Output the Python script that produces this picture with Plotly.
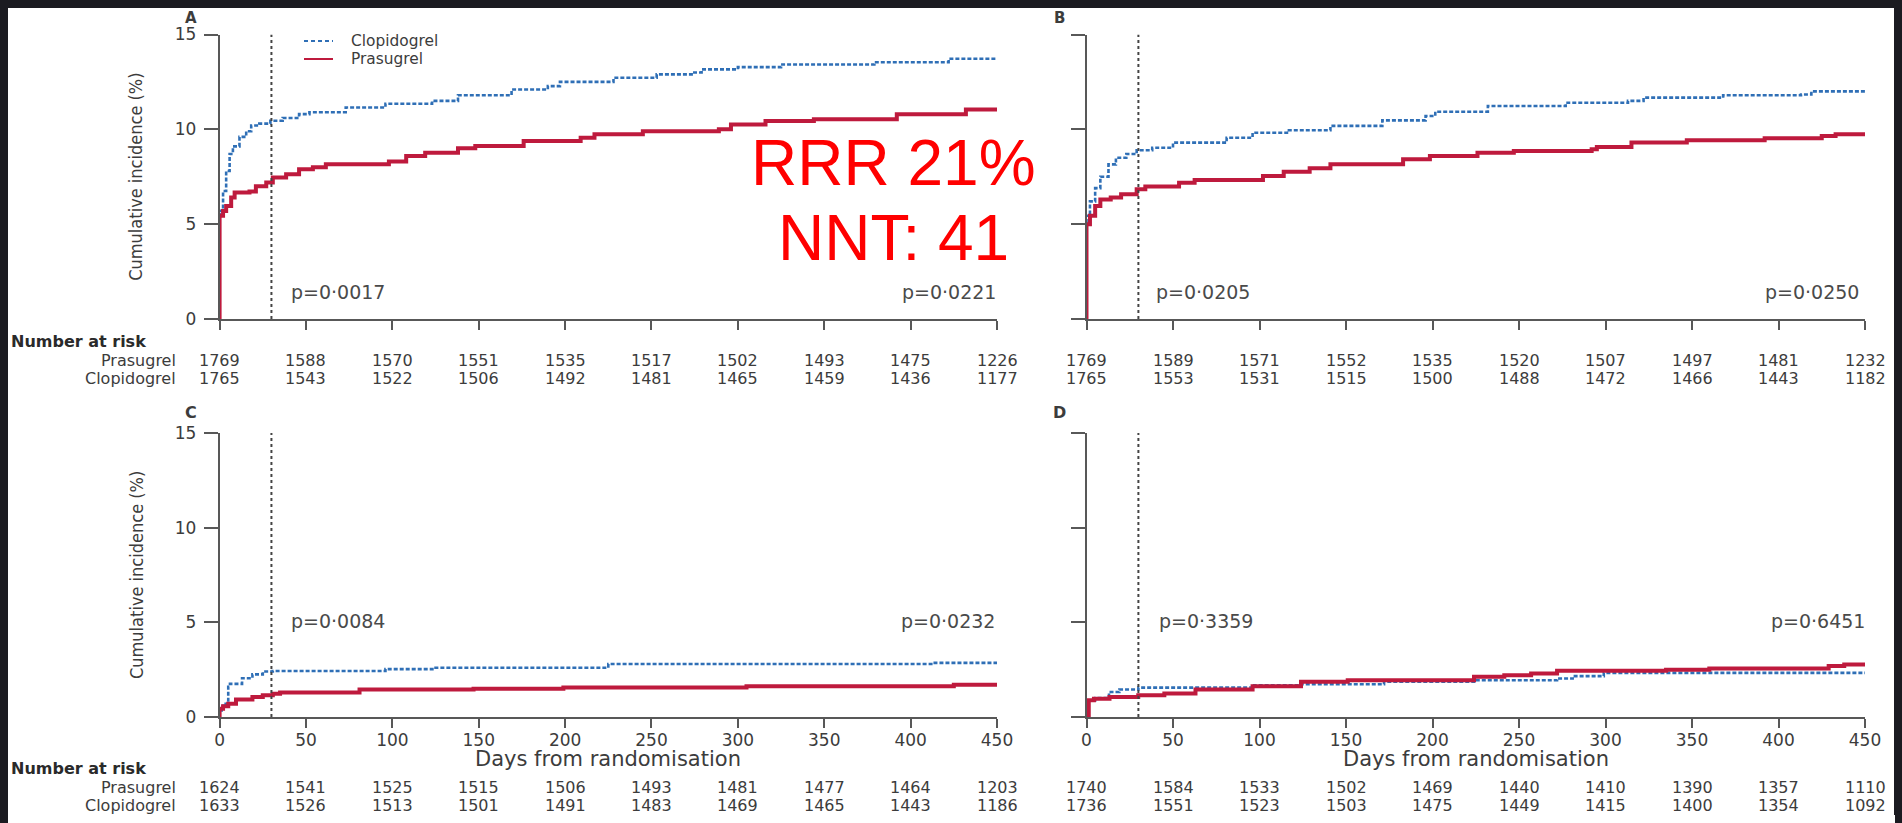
import plotly.graph_objects as go

# Target window is 1902x823; the page body keeps its default 8px margin,
# so the figure itself is 1886x807 and sits at (8, 8) on screen.
SCREEN_W, SCREEN_H = 1902, 823
OFF = 8
FW, FH = SCREEN_W - 2 * OFF, SCREEN_H - 2 * OFF

# ---------------- data ----------------
tick_days = [0, 50, 100, 150, 200, 250, 300, 350, 400, 450]

A_clop_day = [0, 0, 2, 3.8, 5.8, 7.7, 11.5, 15.4, 18.3, 23, 29.4, 36.5, 46, 52, 73, 96, 123, 138, 169, 190, 197, 228, 253, 274, 279, 300, 325, 379, 422, 450]
A_clop_pct = [0, 5.7, 6.75, 7.8, 8.7, 9.1, 9.6, 9.9, 10.2, 10.3, 10.45, 10.6, 10.8, 10.9, 11.15, 11.35, 11.5, 11.8, 12.1, 12.28, 12.5, 12.72, 12.9, 13.0, 13.16, 13.28, 13.42, 13.54, 13.72, 13.72]
A_pras_day = [0, 0, 2, 3.8, 6.7, 8.7, 17.3, 21, 27, 30.8, 38.5, 46, 54, 61.5, 98, 108, 119, 138, 148, 176, 209, 217, 245, 289, 296, 316, 344, 392, 432, 450]
A_pras_pct = [0, 5.44, 5.7, 5.96, 6.4, 6.67, 6.72, 7.0, 7.2, 7.46, 7.63, 7.9, 8.0, 8.16, 8.3, 8.6, 8.77, 9.0, 9.12, 9.39, 9.56, 9.74, 9.9, 10.0, 10.26, 10.44, 10.53, 10.79, 11.05, 11.1]

B_clop_day = [0, 0, 2, 5, 8, 12.7, 17, 23, 29, 38, 50, 81, 96, 117, 141, 171, 196, 201.6, 232, 277, 313, 322, 368, 413, 419, 450]
B_clop_pct = [0, 5.44, 6.2, 6.9, 7.5, 8.15, 8.5, 8.7, 8.9, 9.03, 9.3, 9.56, 9.82, 9.95, 10.18, 10.47, 10.7, 10.93, 11.23, 11.4, 11.5, 11.67, 11.8, 11.84, 12.0, 12.05]
B_pras_day = [0, 0, 2, 5, 8, 14, 20, 29, 34, 53.5, 62.5, 102, 114, 129, 141, 183, 198.5, 226, 247, 292, 295, 315, 347, 392, 425, 433, 450]
B_pras_pct = [0, 5.0, 5.44, 5.96, 6.3, 6.4, 6.58, 6.84, 6.98, 7.19, 7.33, 7.54, 7.77, 7.95, 8.16, 8.42, 8.6, 8.77, 8.86, 8.95, 9.07, 9.3, 9.42, 9.53, 9.65, 9.74, 9.74]

C_clop_day = [0, 0, 2, 5, 6, 13, 19, 25, 30.8, 96, 125, 225, 413, 450]
C_clop_pct = [0, 0.35, 0.7, 1.6, 1.75, 2.05, 2.25, 2.4, 2.43, 2.53, 2.6, 2.8, 2.86, 2.86]
C_pras_day = [0, 0, 2, 5, 9.5, 19, 25, 30.8, 35, 81, 147, 199, 305, 425, 450]
C_pras_pct = [0, 0.44, 0.57, 0.7, 0.92, 1.06, 1.15, 1.23, 1.3, 1.45, 1.49, 1.56, 1.63, 1.7, 1.7]

D_clop_day = [0, 1.3, 5, 13, 19, 30, 96, 124, 172, 224, 272, 281, 299, 450]
D_clop_pct = [0, 0.88, 1.0, 1.32, 1.45, 1.55, 1.68, 1.73, 1.86, 1.94, 2.03, 2.16, 2.33, 2.33]
D_pras_day = [0, 1.3, 4.3, 13.3, 29.9, 45, 63, 96, 124, 151, 224, 241.5, 257, 272, 335, 360, 429, 438, 450]
D_pras_pct = [0, 0.88, 0.97, 1.06, 1.15, 1.24, 1.45, 1.63, 1.86, 1.94, 2.12, 2.2, 2.3, 2.44, 2.5, 2.56, 2.7, 2.77, 2.77]

risk_A_pras = [1769, 1588, 1570, 1551, 1535, 1517, 1502, 1493, 1475, 1226]
risk_A_clop = [1765, 1543, 1522, 1506, 1492, 1481, 1465, 1459, 1436, 1177]
risk_B_pras = [1769, 1589, 1571, 1552, 1535, 1520, 1507, 1497, 1481, 1232]
risk_B_clop = [1765, 1553, 1531, 1515, 1500, 1488, 1472, 1466, 1443, 1182]
risk_C_pras = [1624, 1541, 1525, 1515, 1506, 1493, 1481, 1477, 1464, 1203]
risk_C_clop = [1633, 1526, 1513, 1501, 1491, 1483, 1469, 1465, 1443, 1186]
risk_D_pras = [1740, 1584, 1533, 1502, 1469, 1440, 1410, 1390, 1357, 1110]
risk_D_clop = [1736, 1551, 1523, 1503, 1475, 1449, 1415, 1400, 1354, 1092]

p_values = {"A": ("p=0·0017", "p=0·0221"), "B": ("p=0·0205", "p=0·0250"),
            "C": ("p=0·0084", "p=0·0232"), "D": ("p=0·3359", "p=0·6451")}

# ---------------- styling ----------------
BLUE = "#2f6fb6"
RED = "#be1a3d"
AX = "#585858"
TXT = "#3c3c3c"
DARK = "#1b1b21"
FONT = "DejaVu Sans, Verdana, sans-serif"
NARROW = "Liberation Sans Narrow, Arial Narrow, DejaVu Sans Condensed, sans-serif"
TAB = 16  # number-at-risk font size


def px(x):
    """screen x (px) -> paper fraction"""
    return (x - OFF) / FW


def py(y):
    """screen y (px, from top) -> paper fraction"""
    return 1 - (y - OFF) / FH


fig = go.Figure()

panels = [
    ("x", "y", A_clop_day, A_clop_pct, A_pras_day, A_pras_pct),
    ("x2", "y2", B_clop_day, B_clop_pct, B_pras_day, B_pras_pct),
    ("x3", "y3", C_clop_day, C_clop_pct, C_pras_day, C_pras_pct),
    ("x4", "y4", D_clop_day, D_clop_pct, D_pras_day, D_pras_pct),
]
for xa, ya, cd, cp, pd_, pp in panels:
    fig.add_trace(go.Scatter(x=cd, y=cp, xaxis=xa, yaxis=ya, mode="lines", line_shape="hv",
                             line=dict(color=BLUE, width=2.6, dash="4px,2px"),
                             name="Clopidogrel", showlegend=False, hoverinfo="skip"))
    fig.add_trace(go.Scatter(x=pd_, y=pp, xaxis=xa, yaxis=ya, mode="lines", line_shape="hv",
                             line=dict(color=RED, width=4),
                             name="Prasugrel", showlegend=False, hoverinfo="skip"))

# axis geometry (screen pixels)
XL = (219.6, 997.0)
XR = (1086.5, 1865.0)
YT = (34.5, 319.0)
YB = (433.0, 717.0)

common_x = dict(range=[0, 450], tickvals=tick_days, ticks="outside", ticklen=9, tickwidth=1.5,
                tickcolor=AX, showline=True, linecolor=AX, linewidth=1.5, showgrid=False,
                zeroline=False, tickfont=dict(family=FONT, size=17, color=TXT), fixedrange=True,
                ticklabelstandoff=-2, automargin=False)
common_y = dict(range=[0, 15], tickvals=[0, 5, 10, 15], ticks="outside", ticklen=14, tickwidth=1.5,
                tickcolor=AX, showline=True, linecolor=AX, linewidth=1.5, showgrid=False,
                zeroline=False, tickfont=dict(family=FONT, size=17, color=TXT), fixedrange=True,
                ticklabelstandoff=4, automargin=False)

fig.update_layout(
    xaxis=dict(common_x, domain=[px(XL[0]), px(XL[1])], anchor="y", showticklabels=False),
    yaxis=dict(common_y, domain=[py(YT[1]), py(YT[0])], anchor="x", showticklabels=True),
    xaxis2=dict(common_x, domain=[px(XR[0]), px(XR[1])], anchor="y2", showticklabels=False),
    yaxis2=dict(common_y, domain=[py(YT[1]), py(YT[0])], anchor="x2", showticklabels=False),
    xaxis3=dict(common_x, domain=[px(XL[0]), px(XL[1])], anchor="y3", showticklabels=True),
    yaxis3=dict(common_y, domain=[py(YB[1]), py(YB[0])], anchor="x3", showticklabels=True),
    xaxis4=dict(common_x, domain=[px(XR[0]), px(XR[1])], anchor="y4", showticklabels=True),
    yaxis4=dict(common_y, domain=[py(YB[1]), py(YB[0])], anchor="x4", showticklabels=False),
)

shapes = []
# 30-day landmark lines
for xa, ya in [("x", "y"), ("x2", "y2"), ("x3", "y3"), ("x4", "y4")]:
    shapes.append(dict(type="line", xref=xa, yref=ya, x0=30, x1=30, y0=0, y1=15,
                       line=dict(color="#444444", width=2, dash="dot")))
# legend samples
shapes.append(dict(type="line", xref="paper", yref="paper", x0=px(304), x1=px(333), y0=py(41), y1=py(41),
                   line=dict(color=BLUE, width=2, dash="4px,3px")))
shapes.append(dict(type="line", xref="paper", yref="paper", x0=px(304), x1=px(333), y0=py(59), y1=py(59),
                   line=dict(color=RED, width=2)))

ann = []


def text(x, y, s, size=19, anchor="center", color=TXT, family=FONT, bold=False, xref="paper", angle=0):
    ann.append(dict(x=x if xref != "paper" else px(x), y=py(y), xref=xref, yref="paper",
                    text=("<b>%s</b>" % s) if bold else s,
                    showarrow=False, xanchor=anchor, yanchor="middle", textangle=angle,
                    font=dict(family=family, size=size, color=color)))


# legend texts
text(349, 40.5, "Clopidogrel", size=15.4, anchor="left")
text(349, 59, "Prasugrel", size=15.4, anchor="left")

# panel letters
text(191, 18.5, "A", size=15, bold=True)
text(1059, 18.5, "B", size=15, bold=True)
text(191, 413, "C", size=16, bold=True)
text(1059, 413, "D", size=16, bold=True)

# y axis titles
text(136, (YT[0] + YT[1]) / 2, "Cumulative incidence (%)", size=18, family=NARROW, angle=-90)
text(136, (YB[0] + YB[1]) / 2, "Cumulative incidence (%)", size=18, family=NARROW, angle=-90)

# p values
PC = "#4a4a4a"
text(289, 292, p_values["A"][0], anchor="left", color=PC)
text(998, 292, p_values["A"][1], anchor="right", color=PC)
text(1154, 292, p_values["B"][0], anchor="left", color=PC)
text(1861, 292, p_values["B"][1], anchor="right", color=PC)
text(289, 621, p_values["C"][0], anchor="left", color=PC)
text(997, 621, p_values["C"][1], anchor="right", color=PC)
text(1157, 621, p_values["D"][0], anchor="left", color=PC)
text(1867, 621, p_values["D"][1], anchor="right", color=PC)

# x axis titles
text((XL[0] + XL[1]) / 2, 759, "Days from randomisation", size=21)
text((XR[0] + XR[1]) / 2, 759, "Days from randomisation", size=21)

# number at risk tables
for (row0, xa_l, xa_r, rl_p, rl_c, rr_p, rr_c) in [
        (341.5, "x", "x2", risk_A_pras, risk_A_clop, risk_B_pras, risk_B_clop),
        (768.5, "x3", "x4", risk_C_pras, risk_C_clop, risk_D_pras, risk_D_clop)]:
    text(9, row0, "Number at risk", size=TAB, anchor="left", bold=True, color="#2a2a2a")
    text(178, row0 + 18.5, "Prasugrel", size=TAB, anchor="right")
    text(178, row0 + 37, "Clopidogrel", size=TAB, anchor="right")
    for d, vp, vc in zip(tick_days, rl_p, rl_c):
        text(d, row0 + 18.5, str(vp), size=TAB, xref=xa_l)
        text(d, row0 + 37, str(vc), size=TAB, xref=xa_l)
    for d, vp, vc in zip(tick_days, rr_p, rr_c):
        text(d, row0 + 18.5, str(vp), size=TAB, xref=xa_r)
        text(d, row0 + 37, str(vc), size=TAB, xref=xa_r)

# slide overlay text
ann.append(dict(x=px(893), y=py(163), xref="paper", yref="paper", text="RRR 21%", showarrow=False,
                xanchor="center", yanchor="middle",
                font=dict(family="Liberation Sans, Arial, sans-serif", size=64, color="#ff0000")))
ann.append(dict(x=px(893), y=py(238), xref="paper", yref="paper", text="NNT: 41", showarrow=False,
                xanchor="center", yanchor="middle",
                font=dict(family="Liberation Sans, Arial, sans-serif", size=64, color="#ff0000")))

fig.update_layout(
    width=FW, height=FH, autosize=False,
    margin=dict(l=0, r=0, t=0, b=0),
    paper_bgcolor="white",
    plot_bgcolor="rgba(0,0,0,0)",
    shapes=shapes,
    annotations=ann,
    showlegend=False,
)

# dark slide frame around the white page (page body margin area); white strip at the bottom
bg_js = ("document.body.style.background="
         "'linear-gradient(#ffffff,#ffffff) 8px 815px / 1887px 8px no-repeat, %s';" % DARK)
fig.write_html("out.html", config={"displayModeBar": False}, post_script=bg_js)
